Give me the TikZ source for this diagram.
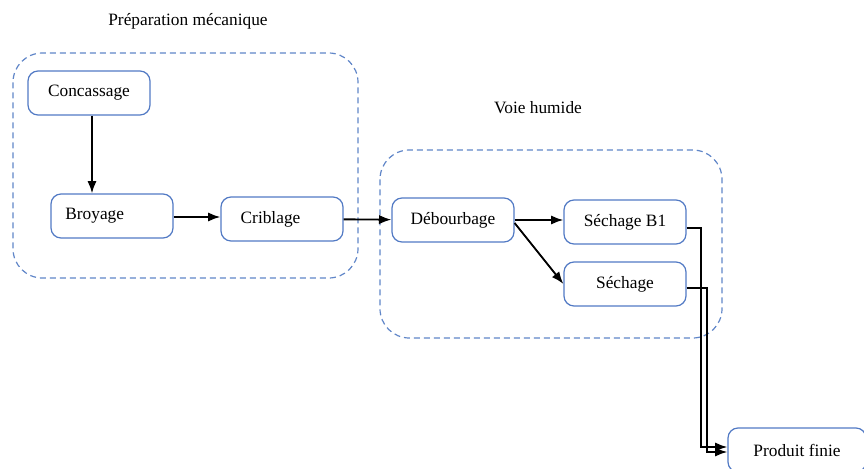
\documentclass[tikz,border=0pt]{standalone}
\usepackage{fontspec}
\setmainfont{Liberation Serif}
\definecolor{BoxBlue}{RGB}{82,122,196}
\definecolor{GroupBlue}{RGB}{96,134,200}
\usetikzlibrary{positioning,calc,arrows.meta}
\tikzset{>=Latex}
\tikzset{stepbox/.style={draw=BoxBlue,line width=0.9pt,rounded corners=7.5pt,minimum width=91.5pt,minimum height=33pt,inner sep=2pt,font=\rmfamily\fontsize{13}{15}\selectfont}}
\tikzset{leftbox/.style={stepbox,text width=#1,align=left}}
\tikzset{groupbox/.style={draw=GroupBlue,line width=0.9pt,dash pattern=on 4.5pt off 3pt,rounded corners=22pt}}
\tikzset{flow/.style={->,line width=1.4pt}}
\tikzset{grouplabel/.style={font=\rmfamily\fontsize{13}{15}\selectfont}}

\begin{document}
\begin{tikzpicture}[x=0.75pt,y=-0.75pt]
    \useasboundingbox (0,0) rectangle (864,468);
    % groupes
    \draw[groupbox] (13,53) rectangle (358,278);
    \draw[groupbox] (380,150) rectangle (722,338);
    \node[grouplabel] (prep) at (188,21) {Préparation mécanique};
    \node[grouplabel] (voie) at (538,108) {Voie humide};
    % etapes
    \node[stepbox] (conc) at (89,93) {Concassage};
    \node[leftbox=70pt] (broy) at (112,216) {Broyage};
    \node[leftbox=62pt] (crib) at (282,219) {Criblage};
    \node[stepbox] (debo) at (453,220) {Débourbage};
    \node[stepbox] (sechb) at (625,222) {Séchage B1};
    \node[stepbox] (sech) at (625,284) {Séchage};
    \node[stepbox,minimum width=103.5pt] (prod) at (797,450) {Produit finie};
    % liaisons
    \draw[flow] ($(conc.south)+(3,0)$) -- ($(conc.south |- broy.north)+(3,0)$);
    \draw[flow] ($(broy.east)+(0,1)$) -- ($(broy.east -| crib.west)+(0,1)$);
    \draw[flow] (crib) -- (debo);
    \draw[flow] (debo) -- (debo -| sechb.west);
    \draw[flow] ($(debo.east)+(0,3)$) -- (sech.west);
    \draw[flow] ($(sechb.east)+(0,6)$) -| ($(prod.west)+(-26,-3)$) -- ($(prod.west)+(0,-3)$);
    \draw[flow] ($(sech.east)+(0,4)$) -| ($(prod.west)+(-20,2)$) -- ($(prod.west)+(0,2)$);
\end{tikzpicture}
\end{document}
